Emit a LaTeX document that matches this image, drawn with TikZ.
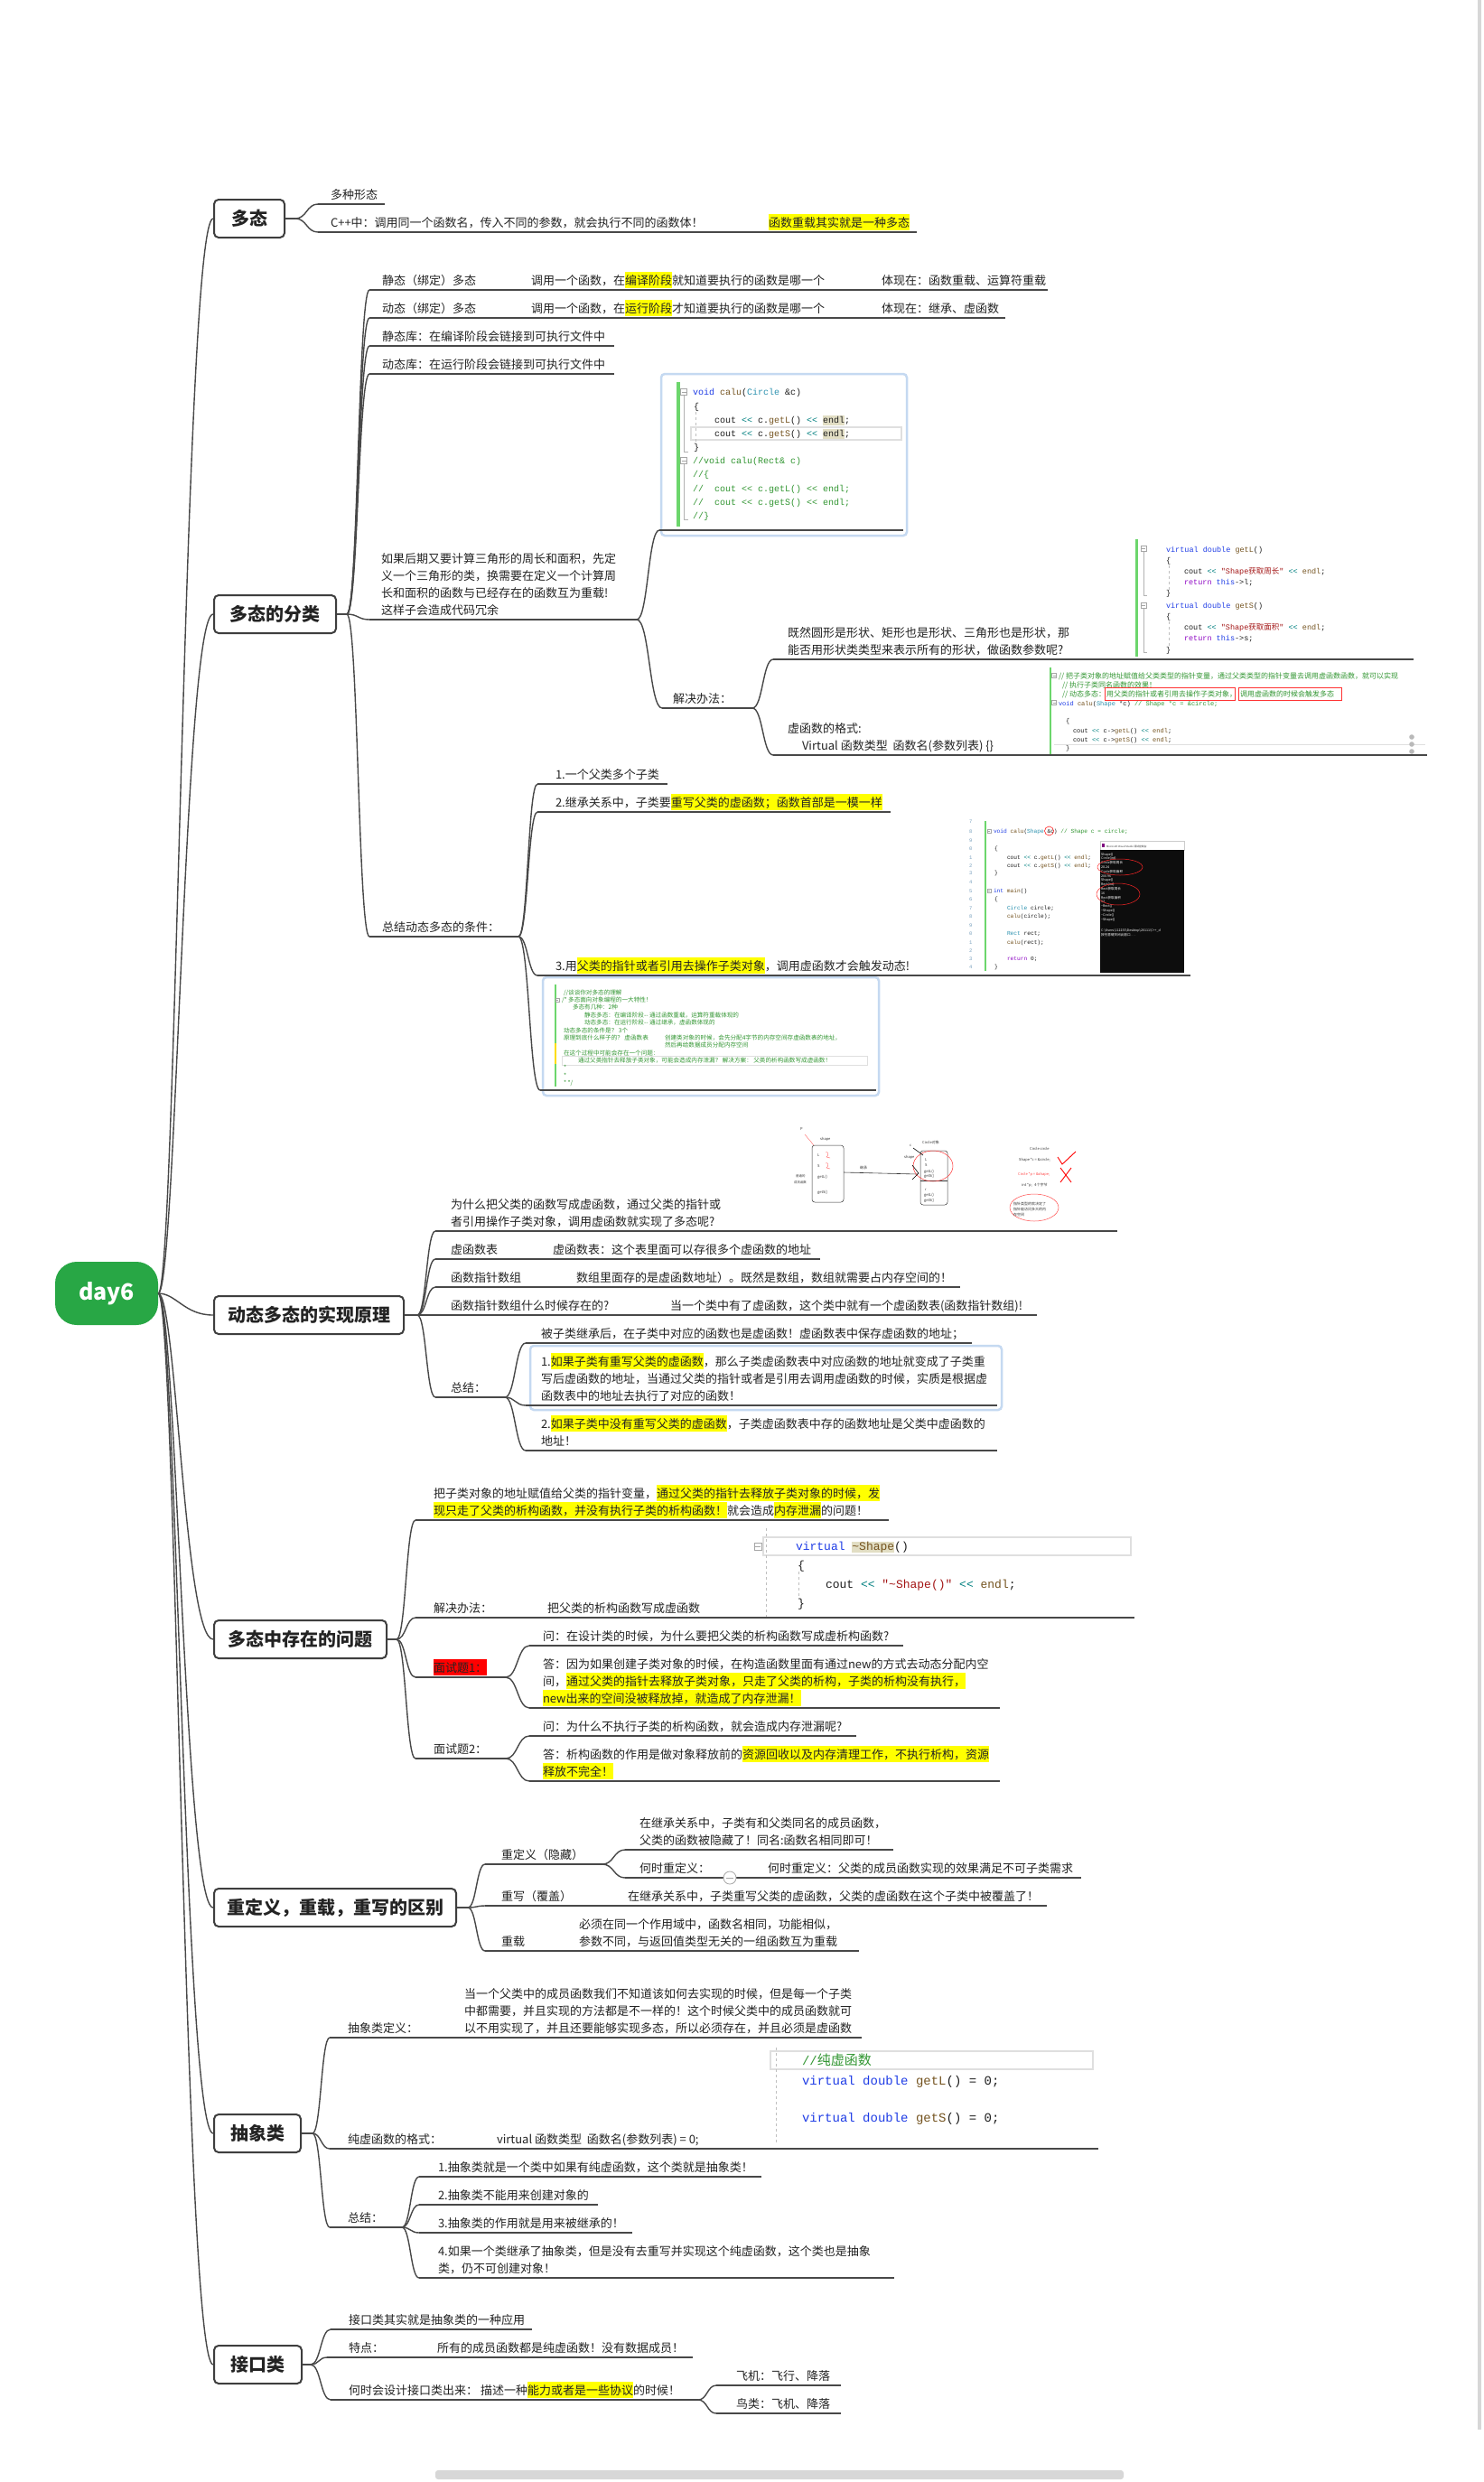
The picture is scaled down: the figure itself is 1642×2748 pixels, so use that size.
\documentclass[tikz,border=0pt]{standalone}
\usepackage{fontspec}
\setmainfont{Noto Sans CJK SC}
\newfontfamily\cjk{Noto Sans CJK SC}
\newfontfamily\mono{Liberation Mono}[Ligatures=TeXOff]
\usetikzlibrary{calc}
\definecolor{lc}{RGB}{72,72,72}
\definecolor{bc}{RGB}{62,62,62}
\definecolor{tc}{RGB}{35,35,35}
\definecolor{hly}{RGB}{255,255,0}
\definecolor{rootg}{RGB}{40,167,69}
\definecolor{fc}{RGB}{197,217,241}
\definecolor{gb}{RGB}{108,214,108}
\definecolor{kwc}{RGB}{30,60,230}
\definecolor{fnc}{RGB}{116,83,31}
\definecolor{tyc}{RGB}{43,145,175}
\definecolor{opc}{RGB}{0,128,128}
\definecolor{cmc}{RGB}{50,150,50}
\definecolor{stc}{RGB}{163,21,21}
\definecolor{puc}{RGB}{143,8,196}
\definecolor{ccc}{RGB}{30,30,30}
\definecolor{ebc}{RGB}{226,222,196}
\definecolor{sbc}{RGB}{215,215,215}
\definecolor{lnc}{RGB}{120,160,190}
\newcounter{tn}
\newcommand\TXi[5]{\node[#2] (t#1) at (#3,#4) {#5};}
\newcommand\TX[4]{\stepcounter{tn}\expandafter\TXi\expandafter{\number\value{tn}}{#1}{#2}{#3}{#4}}
\newcommand\HL[1]{{\setlength{\fboxsep}{0pt}\colorbox{hly}{\rule[-4pt]{0pt}{18pt}#1}}}
\newcommand\RB[1]{{\setlength{\fboxsep}{0pt}\colorbox{red}{\rule[-4pt]{0pt}{18pt}#1}}}
\newcommand\EB[1]{{\setlength{\fboxsep}{0pt}\colorbox{ebc}{\rule[-2.5pt]{0pt}{11pt}#1}}}
\newcommand\KW[1]{\textcolor{kwc}{#1}}
\newcommand\FN[1]{\textcolor{fnc}{#1}}
\newcommand\TY[1]{\textcolor{tyc}{#1}}
\newcommand\OP[1]{\textcolor{opc}{#1}}
\newcommand\CM[1]{\textcolor{cmc}{#1}}
\newcommand\ST[1]{\textcolor{stc}{#1}}
\newcommand\PU[1]{\textcolor{puc}{#1}}
\newcommand\UL[4]{\coordinate (#1s) at (#2,#4); \coordinate (#1e) at (#3,#4); \draw[mline] (#1s) -- (#1e);}
\newcommand\CN[2]{\draw[mline] (#1) .. controls ($(#1)!0.5!(#2|-#1)$) and ($(#2)!0.5!(#1|-#2)$) .. (#2);}
\newcommand\FM[3]{\draw[gray!70,line width=0.5pt,fill=white] (#1-#3,#2-#3) rectangle (#1+#3,#2+#3); \draw[gray!70,line width=0.5pt] (#1-#3+1,#2) -- (#1+#3-1,#2);}
\tikzset{
 mline/.style={draw=lc, line width=1.4pt},
 topic/.style={draw=bc, line width=2pt, rounded corners=5pt, fill=white, text=tc, inner sep=0pt, minimum height=42pt, font=\fontsize{20}{24}\selectfont\bfseries},
 root/.style={fill=rootg, text=white, rounded corners=24pt, minimum width=114pt, minimum height=70pt, inner sep=0pt, font=\fontsize{25}{28}\selectfont\bfseries},
 txt/.style={anchor=base west, inner sep=0pt, outer sep=0pt, text=tc, font=\fontsize{13}{19}\selectfont},
 frame/.style={draw=fc, line width=2.5pt, rounded corners=4pt, fill=white},
 code/.style={anchor=base west, inner sep=0pt, outer sep=0pt, text=ccc, font=\mono\fontsize{10}{12}\selectfont},
 c85/.style={code, font=\mono\fontsize{8.5}{10}\selectfont},
 c7/.style={code, font=\mono\fontsize{7}{8}\selectfont},
 c62/.style={code, font=\mono\fontsize{6.2}{7}\selectfont},
 c13/.style={code, font=\mono\fontsize{13}{15}\selectfont},
 c14/.style={code, font=\mono\fontsize{14}{16}\selectfont},
 cj8/.style={code, text=cmc, font=\cjk\fontsize{8}{9}\selectfont},
 cj66/.style={code, text=cmc, font=\cjk\fontsize{6.6}{8}\selectfont},
 lnum/.style={code, text=lnc, font=\mono\fontsize{5.5}{6}\selectfont},
 con/.style={anchor=base west, inner sep=0pt, text=white, font=\cjk\fontsize{3.6}{4}\selectfont},
 hd/.style={anchor=base west, inner sep=0pt, text=black!80, font=\cjk\fontsize{4}{5}\selectfont},
 clbox/.style={draw=gray!25, line width=1.2pt},
 guide/.style={draw=gray!50, line width=0.5pt, dashed},
}
\begin{document}
\begin{tikzpicture}[x=1pt,y=-1pt]
\useasboundingbox (0,0) rectangle (1642,2748);
\fill[white] (0,0) rectangle (1642,2748);
% scrollbars
\fill[sbc] (1636,0) rectangle (1640,2690);
\fill[sbc, rounded corners=3pt] (482,2735) rectangle (1244,2745);

% frames of pasted pictures
\draw[frame] (732,414) rectangle (1004,593);
\draw[frame] (601,1082) rectangle (973,1213);
\draw[frame] (587,1490) rectangle (1109,1561);

% root and topics
\node[root] (root) at (118,1432) {day6};
\node[topic, minimum width=78pt] (b1) at (276,242) {多态};
\node[topic, minimum width=135pt] (b2) at (304.5,680) {多态的分类};
\node[topic, minimum width=210pt] (b3) at (342,1456) {动态多态的实现原理};
\node[topic, minimum width=191pt] (b4) at (332.5,1815) {多态中存在的问题};
\node[topic, minimum width=268pt] (b5) at (371,2112) {重定义，重载，重写的区别};
\node[topic, minimum width=96pt] (b6) at (285,2362) {抽象类};
\node[topic, minimum width=97pt] (b7) at (285.5,2618) {接口类};
\foreach \b in {b1,b2,b3,b4,b5,b6,b7}{\draw[mline] (root.east) .. controls +(20,0) and +(-32,0) .. (\b.west);}

% stubs
\coordinate (s1) at (327,242);
\coordinate (s2) at (384,680);
\coordinate (s3) at (462,1456);
\coordinate (s4) at (439,1815);
\coordinate (s5) at (518,2112);
\coordinate (s6) at (346,2362);
\coordinate (s7) at (344,2618);
\draw[mline] (b1.east) -- (s1);
\draw[mline] (b2.east) -- (s2);
\draw[mline] (b3.east) -- (s3);
\draw[mline] (b4.east) -- (s4);
\draw[mline] (b5.east) -- (s5);
\draw[mline] (b6.east) -- (s6);
\draw[mline] (b7.east) -- (s7);

% ---------- section 1
\UL{a1}{352}{426}{226}
\UL{a2}{352}{1015}{257}
\CN{s1}{a1s} \CN{s1}{a2s}
\TX{txt}{366}{220}{多种形态}
\TX{txt}{366}{251}{C++中：调用同一个函数名，传入不同的参数，就会执行不同的函数体！}
\TX{txt}{851}{251}{\HL{函数重载其实就是一种多态}}

% ---------- section 2
\UL{c1}{409}{1160}{321}
\UL{c2}{409}{1113}{352}
\UL{c3}{409}{680}{383}
\UL{c4}{409}{680}{414}
\UL{c5}{409}{705}{686}
\UL{c6}{409}{574}{1037}
\UL{c51}{730}{1000}{587}
\UL{c52}{733}{833}{784}
\UL{c521}{856}{1565}{730}
\UL{c522}{856}{1580}{836}
\UL{c61}{595}{739}{868}
\UL{c62}{595}{986}{899}
\UL{c63}{595}{1318}{1080}
\UL{c64}{598}{970}{1207}
\CN{s2}{c1s} \CN{s2}{c2s} \CN{s2}{c3s} \CN{s2}{c4s} \CN{s2}{c5s} \CN{s2}{c6s}
\CN{c5e}{c51s} \CN{c5e}{c52s}
\CN{c52e}{c521s} \CN{c52e}{c522s}
\CN{c6e}{c61s} \CN{c6e}{c62s} \CN{c6e}{c63s} \CN{c6e}{c64s}
\TX{txt}{423}{315}{静态（绑定）多态}
\TX{txt}{588}{315}{调用一个函数，在\HL{编译阶段}就知道要执行的函数是哪一个}
\TX{txt}{976}{315}{体现在：函数重载、运算符重载}
\TX{txt}{423}{346}{动态（绑定）多态}
\TX{txt}{588}{346}{调用一个函数，在\HL{运行阶段}才知道要执行的函数是哪一个}
\TX{txt}{976}{346}{体现在：继承、虚函数}
\TX{txt}{423}{377}{静态库：在编译阶段会链接到可执行文件中}
\TX{txt}{423}{408}{动态库：在运行阶段会链接到可执行文件中}
\TX{txt}{422}{623}{如果后期又要计算三角形的周长和面积，先定}
\TX{txt}{422}{642}{义一个三角形的类，换需要在定义一个计算周}
\TX{txt}{422}{661}{长和面积的函数与已经存在的函数互为重载!}
\TX{txt}{422}{680}{这样子会造成代码冗余}
\TX{txt}{745}{778}{解决办法：}
\TX{txt}{872}{705}{既然圆形是形状、矩形也是形状、三角形也是形状，那}
\TX{txt}{872}{724}{能否用形状类类型来表示所有的形状，做函数参数呢?}
\TX{txt}{872}{811}{虚函数的格式:}
\TX{txt}{888}{830}{Virtual 函数类型\ \ 函数名(参数列表) \{\}}
\TX{txt}{423}{1031}{总结动态多态的条件：}
\TX{txt}{615}{862}{1.一个父类多个子类}
\TX{txt}{615}{893}{2.继承关系中，子类要\HL{重写父类的虚函数；函数首部是一模一样}}
\TX{txt}{615}{1074}{3.用\HL{父类的指针或者引用去操作子类对象}，调用虚函数才会触发动态!}

% code picture 1
\fill[gb] (749,423) rectangle (753,583);
\draw[clbox] (765,473) rectangle (998,487);
\draw[gray!60,line width=0.5pt] (757,438) -- (757,500) -- (762,500);
\draw[gray!60,line width=0.5pt] (757,514) -- (757,575) -- (762,575);
\draw[guide] (770,456) -- (770,490);
\FM{757}{434}{3.5} \FM{757}{510}{3.5}
\TX{code}{767}{437.5}{\KW{void} \FN{calu}(\TY{Circle} \&c)}
\TX{code}{768}{453.5}{\{}
\TX{code}{791}{468.5}{cout \OP{<<} c.\FN{getL}() \OP{<<} \EB{endl};}
\TX{code}{791}{483.5}{cout \OP{<<} c.\FN{getS}() \OP{<<} \EB{endl};}
\TX{code}{768}{498.5}{\}}
\TX{code}{767}{513.5}{\CM{//void calu(Rect\& c)}}
\TX{code}{767}{528.5}{\CM{//\{}}
\TX{code}{767}{544.5}{\CM{//\ \ cout << c.getL() << endl;}}
\TX{code}{767}{559.5}{\CM{//\ \ cout << c.getS() << endl;}}
\TX{code}{767}{574.5}{\CM{//\}}}

% code picture 2
\fill[gb] (1257,597) rectangle (1260,727);
\draw[gray!60,line width=0.4pt] (1266,611) -- (1266,659) -- (1270,659);
\draw[gray!60,line width=0.4pt] (1266,674) -- (1266,722) -- (1270,722);
\draw[guide] (1294,626) -- (1294,655);
\draw[guide] (1294,688) -- (1294,718);
\FM{1266}{607}{3} \FM{1266}{670}{3}
\TX{c85}{1291}{611}{\KW{virtual} \KW{double} \FN{getL}()}
\TX{c85}{1291}{623}{\{}
\TX{c85}{1311}{635}{cout \OP{<<} \ST{"Shape{\cjk 获取周长}"} \OP{<<} \FN{endl};}
\TX{c85}{1311}{647}{\PU{return} \KW{this}->l;}
\TX{c85}{1291}{659}{\}}
\TX{c85}{1291}{673}{\KW{virtual} \KW{double} \FN{getS}()}
\TX{c85}{1291}{685}{\{}
\TX{c85}{1311}{697}{cout \OP{<<} \ST{"Shape{\cjk 获取面积}"} \OP{<<} \FN{endl};}
\TX{c85}{1311}{709}{\PU{return} \KW{this}->s;}
\TX{c85}{1291}{722}{\}}

% code picture 3
\fill[gb] (1162,739) rectangle (1164,835);
\draw[gray!25,line width=0.8pt] (1167,824) -- (1578,824);
\FM{1167}{748}{2.5} \FM{1167}{778}{2.5}
\TX{cj8}{1172}{751}{// 把子类对象的地址赋值给父类类型的指针变量，通过父类类型的指针变量去调用虚函数函数，就可以实现}
\TX{cj8}{1176}{761}{// 执行子类同名函数的效果！}
\TX{cj8}{1176}{771}{// 动态多态：}
\draw[red!80, line width=0.8pt] (1223,761) rectangle (1367,775);
\draw[red!80, line width=0.8pt] (1371,761) rectangle (1485,775);
\TX{cj8}{1225}{771}{用父类的指针或者引用去操作子类对象，}
\TX{cj8}{1373}{771}{调用虚函数的时候会触发多态}
\TX{c7}{1172}{781}{\KW{void} \FN{calu}(\TY{Shape} *c) \CM{// Shape *c = \&circle;}}
\TX{c7}{1180}{800}{\{}
\TX{c7}{1188}{811}{cout \OP{<<} c->\FN{getL}() \OP{<<} \FN{endl};}
\TX{c7}{1188}{821}{cout \OP{<<} c->\FN{getS}() \OP{<<} \FN{endl};}
\TX{c7}{1180}{830}{\}}
\fill[gray!55] (1563,816) circle (2.8);
\fill[gray!55] (1563,824) circle (2.8);
\fill[gray!55] (1563,832) circle (2.8);

% code picture 4 (comments)
\fill[gb] (614,1090) rectangle (616,1203);
\fill[yellow!80!orange] (614,1155) rectangle (616,1178);
\draw[gray!25, line width=0.8pt] (622,1169) rectangle (960,1179);
\FM{617}{1107}{2.2}
\TX{cj66}{624}{1101}{//谈谈你对多态的理解}
\TX{cj66}{622}{1109}{/* 多态面向对象编程的一大特性！}
\TX{cj66}{634}{1117}{多态有几种：2种}
\TX{cj66}{647}{1126}{静态多态：在编译阶段-{}- 通过函数重载，运算符重载体现的}
\TX{cj66}{647}{1134}{动态多态：在运行阶段-{}- 通过继承，虚函数体现的}
\TX{cj66}{624}{1143}{动态多态的条件是？ 3个}
\TX{cj66}{624}{1151}{原理到底什么样子的？ 虚函数表}
\TX{cj66}{736}{1151}{创建类对象的时候，会先分配4字节的内存空间存虚函数表的地址，}
\TX{cj66}{736}{1159}{然后再给数据成员分配内存空间}
\TX{cj66}{624}{1168}{在这个过程中可能会存在一个问题：}
\TX{cj66}{640}{1176}{通过父类指针去释放子类对象，可能会造成内存泄漏？ 解决方案： 父类的析构函数写成虚函数！}
\TX{cj66}{624}{1184}{*}
\TX{cj66}{624}{1193}{*}
\TX{cj66}{624}{1201}{* */}

% code picture 5 (calu Shape & + console)
\fill[gb] (1090,909) rectangle (1092,1075);
\foreach \n/\yy in {7/911,8/922,9/932,0/941,1/951,2/960,3/968,4/978,5/988,6/997,7/1007,8/1016,9/1026,0/1035,1/1045,2/1054,3/1063,4/1072}{\node[lnum] (ln\yy) at (1073,\yy) {\n};}
\FM{1095}{920}{2.2} \FM{1095}{986}{2.2}
\TX{c62}{1100}{922}{\KW{void} \FN{calu}(\TY{Shape} \&c) \CM{// Shape c = circle;}}
\draw[red, line width=0.5pt] (1161.5,920) circle (5);
\TX{c62}{1101}{941}{\{}
\TX{c62}{1115}{951}{cout \OP{<<} c.\FN{getL}() \OP{<<} \FN{endl};}
\TX{c62}{1115}{960}{cout \OP{<<} c.\FN{getS}() \OP{<<} \FN{endl};}
\TX{c62}{1101}{968}{\}}
\TX{c62}{1100}{988}{\KW{int} \FN{main}()}
\TX{c62}{1101}{997}{\{}
\TX{c62}{1115}{1007}{\TY{Circle} circle;}
\TX{c62}{1115}{1016}{\FN{calu}(circle);}
\TX{c62}{1115}{1035}{\TY{Rect} rect;}
\TX{c62}{1115}{1045}{\FN{calu}(rect);}
\TX{c62}{1115}{1063}{\PU{return} 0;}
\TX{c62}{1101}{1072}{\}}
\fill[white] (1218,931) rectangle (1311,941);
\draw[gray!40, line width=0.3pt] (1218,931) rectangle (1311,941);
\fill[black!95] (1218,941) rectangle (1311,1077);
\fill[violet] (1220,934) rectangle (1223,938);
\TX{hd,font=\cjk\fontsize{2.8}{3}\selectfont}{1225}{938}{Microsoft Visual Studio 调试控制台}
\TX{con}{1219}{947}{Shape()}
\TX{con}{1219}{951.8}{Circle(int)}
\TX{con}{1219}{956.6}{Circle获取周长}
\TX{con}{1219}{961.4}{28.24}
\TX{con}{1219}{966.2}{Circle获取面积}
\TX{con}{1219}{971}{200.96}
\TX{con}{1219}{975.8}{Shape()}
\TX{con}{1219}{980.6}{Rect(int)}
\TX{con}{1219}{985.4}{Rect获取周长}
\TX{con}{1219}{990.2}{16}
\TX{con}{1219}{995}{Rect获取面积}
\TX{con}{1219}{999.8}{12}
\TX{con}{1219}{1004.6}{\textasciitilde Rect()}
\TX{con}{1219}{1009.4}{\textasciitilde Shape()}
\TX{con}{1219}{1014.2}{\textasciitilde Circle()}
\TX{con}{1219}{1019}{\textasciitilde Shape()}
\TX{con}{1219}{1031}{C:\textbackslash Users\textbackslash 112233\textbackslash Desktop\textbackslash 20111\textbackslash C++\_d}
\TX{con}{1219}{1036}{按任意键关闭此窗口. . .}
\draw[red!85, line width=0.5pt] (1240,960) ellipse [x radius=25, y radius=9];
\draw[red!85, line width=0.5pt] (1238,990) ellipse [x radius=24, y radius=12];

% ---------- section 3
\UL{d1}{482}{1237}{1363}
\UL{d2}{482}{908}{1394}
\UL{d3}{482}{1063}{1425}
\UL{d4}{482}{1148}{1456}
\UL{d5}{482}{559}{1547}
\UL{d51}{582}{1076}{1487}
\UL{d52}{582}{1104}{1556}
\UL{d53}{582}{1104}{1606}
\CN{s3}{d1s} \CN{s3}{d2s} \CN{s3}{d3s} \CN{s3}{d4s} \CN{s3}{d5s}
\CN{d5e}{d51s} \CN{d5e}{d52s} \CN{d5e}{d53s}
\TX{txt}{499}{1338}{为什么把父类的函数写成虚函数，通过父类的指针或}
\TX{txt}{499}{1357}{者引用操作子类对象，调用虚函数就实现了多态呢?}
\TX{txt}{499}{1388}{虚函数表}
\TX{txt}{612}{1388}{虚函数表：这个表里面可以存很多个虚函数的地址}
\TX{txt}{499}{1419}{函数指针数组}
\TX{txt}{638}{1419}{数组里面存的是虚函数地址）。既然是数组，数组就需要占内存空间的！}
\TX{txt}{499}{1450}{函数指针数组什么时候存在的?}
\TX{txt}{742}{1450}{当一个类中有了虚函数，这个类中就有一个虚函数表(函数指针数组)!}
\TX{txt}{499}{1541}{总结：}
\TX{txt}{599}{1481}{被子类继承后，在子类中对应的函数也是虚函数！虚函数表中保存虚函数的地址；}
\TX{txt}{599}{1512}{1.\HL{如果子类有重写父类的虚函数}，那么子类虚函数表中对应函数的地址就变成了子类重}
\TX{txt}{599}{1531}{写后虚函数的地址，当通过父类的指针或者是引用去调用虚函数的时候，实质是根据虚}
\TX{txt}{599}{1550}{函数表中的地址去执行了对应的函数！}
\TX{txt}{599}{1581}{2.\HL{如果子类中没有重写父类的虚函数}，子类虚函数表中存的函数地址是父类中虚函数的}
\TX{txt}{599}{1600}{地址！}

% hand drawing picture
\draw[red!60, line width=0.4pt] (891,1256) .. controls (896,1262) .. (901,1268);
\TX{hd}{886}{1251}{P}
\TX{hd}{908}{1262}{shape}
\draw[black!80, line width=0.5pt, rounded corners=3pt] (899,1268) rectangle (934,1331);
\TX{hd}{905}{1280}{L}
\TX{hd}{905}{1292}{S}
\draw[red!60, line width=0.4pt] (914,1276) .. controls (917,1274) and (918,1279) .. (915,1281) -- (919,1282);
\draw[red!60, line width=0.4pt] (914,1288) .. controls (917,1286) and (918,1291) .. (915,1293) -- (919,1294);
\TX{hd}{905}{1304}{getL()}
\TX{hd}{905}{1321}{getS()}
\TX{hd,font=\cjk\fontsize{3.4}{4}\selectfont}{881}{1303}{普通的}
\TX{hd,font=\cjk\fontsize{3.4}{4}\selectfont}{879}{1310}{成员函数}
\draw[black!80, line width=0.6pt] (934,1298) -- (1016,1300);
\TX{hd}{952}{1294}{继承}
\draw[black!80, line width=0.5pt, rounded corners=3pt] (1019,1274) rectangle (1049,1334);
\draw[black!80, line width=0.5pt] (1019,1307) -- (1049,1307);
\TX{hd}{1021}{1266}{Circle对象}
\TX{hd}{1024}{1285}{L}
\TX{hd}{1024}{1291}{S}
\TX{hd}{1023}{1298}{getL()}
\TX{hd}{1023}{1303}{getS()}
\TX{hd}{1024}{1318}{r}
\TX{hd}{1023}{1324}{getL()}
\TX{hd}{1023}{1330}{getS()}
\draw[red!80, line width=0.5pt] (1033,1291) ellipse [x radius=22, y radius=17];
\TX{hd}{1007}{1269}{c}
\draw[black, line width=0.6pt] (1011,1271) -- (1022,1279);
\TX{hd}{1001}{1282}{shape}
\draw[black, line width=0.6pt] (1010,1290) -- (1017,1299) -- (1010,1306);
\TX{hd}{1140}{1273}{Circle circle}
\TX{hd}{1128}{1285}{Shape *c = \&circle;}
\draw[red, line width=0.9pt] (1171,1281) -- (1176,1289) -- (1191,1275);
\TX{hd,text=red!75}{1127}{1301}{Circle *p = \&shape;}
\draw[red, line width=0.9pt] (1174,1293) -- (1186,1309) (1186,1293) -- (1174,1309);
\TX{hd}{1131}{1313}{int *p;\ \ \ 4个字节}
\draw[red!70, line width=0.5pt] (1145,1337) ellipse [x radius=27, y radius=15];
\TX{hd}{1122}{1334}{指针类型的就决定了}
\TX{hd}{1122}{1340}{指针能访问多大的内}
\TX{hd}{1122}{1346}{存空间}

% ---------- section 4
\UL{e1}{460}{984}{1683}
\UL{e2}{460}{1256}{1791}
\UL{e3}{460}{560}{1857}
\UL{e4}{460}{560}{1947}
\UL{e31}{586}{1000}{1822}
\UL{e32}{586}{1107}{1891}
\UL{e41}{586}{948}{1922}
\UL{e42}{586}{1107}{1972}
\CN{s4}{e1s} \CN{s4}{e2s} \CN{s4}{e3s} \CN{s4}{e4s}
\CN{e3e}{e31s} \CN{e3e}{e32s}
\CN{e4e}{e41s} \CN{e4e}{e42s}
\TX{txt}{480}{1658}{把子类对象的地址赋值给父类的指针变量，\HL{通过父类的指针去释放子类对象的时候，发}}
\TX{txt}{480}{1677}{\HL{现只走了父类的析构函数，并没有执行子类的析构函数！}就会造成\HL{内存泄漏}的问题！}
\TX{txt}{480}{1785}{解决办法：}
\TX{txt}{606}{1785}{把父类的析构函数写成虚函数}
\TX{txt}{480}{1851}{\RB{面试题1：}}
\TX{txt}{601}{1816}{问：在设计类的时候，为什么要把父类的析构函数写成虚析构函数?}
\TX{txt}{601}{1847}{答：因为如果创建子类对象的时候，在构造函数里面有通过new的方式去动态分配内空}
\TX{txt}{601}{1866}{间，\HL{通过父类的指针去释放子类对象，只走了父类的析构，子类的析构没有执行，}}
\TX{txt}{601}{1885}{\HL{new出来的空间没被释放掉，就造成了内存泄漏！}}
\TX{txt}{480}{1941}{面试题2：}
\TX{txt}{601}{1916}{问：为什么不执行子类的析构函数，就会造成内存泄漏呢?}
\TX{txt}{601}{1947}{答：析构函数的作用是做对象释放前的\HL{资源回收以及内存清理工作，不执行析构，资源}}
\TX{txt}{601}{1966}{\HL{释放不完全！}}
% code picture 6
\draw[clbox] (845,1702) rectangle (1252,1722);
\draw[guide] (848,1692) -- (848,1790);
\draw[guide] (884,1740) -- (884,1770);
\FM{839}{1712}{4}
\TX{c13}{881}{1716}{\KW{virtual} \EB{\FN{\textasciitilde Shape}}()}
\TX{c13}{883}{1737}{\{}
\TX{c13}{914}{1758}{cout \OP{<<} \ST{"\textasciitilde Shape()"} \OP{<<} \FN{endl};}
\TX{c13}{883}{1779}{\}}

% ---------- section 5
\UL{f1}{537}{667}{2064}
\UL{f2}{537}{1159}{2110}
\UL{f3}{537}{951}{2160}
\UL{f11}{692}{989}{2048}
\UL{f12}{692}{1197}{2079}
\CN{s5}{f1s} \CN{s5}{f2s} \CN{s5}{f3s}
\CN{f1e}{f11s} \CN{f1e}{f12s}
\TX{txt}{555}{2058}{重定义（隐藏）}
\TX{txt}{708}{2023}{在继承关系中，子类有和父类同名的成员函数，}
\TX{txt}{708}{2042}{父类的函数被隐藏了！同名:函数名相同即可！}
\TX{txt}{708}{2073}{何时重定义：}
\TX{txt}{850}{2073}{何时重定义：父类的成员函数实现的效果满足不可子类需求}
\draw[gray!70, line width=0.8pt, fill=white] (808,2079) circle (7);
\draw[gray!70, line width=0.8pt] (804,2079) -- (812,2079);
\TX{txt}{555}{2104}{重写（覆盖）}
\TX{txt}{695}{2104}{在继承关系中，子类重写父类的虚函数，父类的虚函数在这个子类中被覆盖了！}
\TX{txt}{555}{2154}{重载}
\TX{txt}{641}{2135}{必须在同一个作用域中，函数名相同，功能相似，}
\TX{txt}{641}{2154}{参数不同，与返回值类型无关的一组函数互为重载}

% ---------- section 6
\UL{g1}{365}{954}{2256}
\UL{g2}{365}{1216}{2379}
\UL{g3}{365}{445}{2466}
\UL{g31}{464}{843}{2410}
\UL{g32}{464}{662}{2441}
\UL{g33}{464}{700}{2472}
\UL{g34}{464}{990}{2522}
\CN{s6}{g1s} \CN{s6}{g2s} \CN{s6}{g3s}
\CN{g3e}{g31s} \CN{g3e}{g32s} \CN{g3e}{g33s} \CN{g3e}{g34s}
\TX{txt}{385}{2250}{抽象类定义：}
\TX{txt}{514}{2212}{当一个父类中的成员函数我们不知道该如何去实现的时候，但是每一个子类}
\TX{txt}{514}{2231}{中都需要，并且实现的方法都是不一样的！这个时候父类中的成员函数就可}
\TX{txt}{514}{2250}{以不用实现了，并且还要能够实现多态，所以必须存在，并且必须是虚函数}
\TX{txt}{385}{2373}{纯虚函数的格式：}
\TX{txt}{550}{2373}{virtual 函数类型\ \ 函数名(参数列表) = 0;}
\TX{txt}{385}{2460}{总结：}
\TX{txt}{485}{2404}{1.抽象类就是一个类中如果有纯虚函数，这个类就是抽象类！}
\TX{txt}{485}{2435}{2.抽象类不能用来创建对象的}
\TX{txt}{485}{2466}{3.抽象类的作用就是用来被继承的！}
\TX{txt}{485}{2497}{4.如果一个类继承了抽象类，但是没有去重写并实现这个纯虚函数，这个类也是抽象}
\TX{txt}{485}{2516}{类，仍不可创建对象！}
% code picture 7
\draw[clbox] (853,2271) rectangle (1210,2291);
\draw[guide] (859,2267) -- (859,2374);
\TX{c14,text=cmc}{888}{2286}{//{\cjk\fontsize{15}{16}\selectfont 纯虚函数}}
\TX{c14}{888}{2308}{\KW{virtual} \KW{double} \FN{getL}() = 0;}
\TX{c14}{888}{2349}{\KW{virtual} \KW{double} \FN{getS}() = 0;}

% ---------- section 7
\UL{h1}{366}{589}{2579}
\UL{h2}{362}{767}{2610}
\UL{h3}{366}{773}{2657}
\UL{h31}{793}{931}{2641}
\UL{h32}{793}{931}{2672}
\CN{s7}{h1s} \CN{s7}{h2s} \CN{s7}{h3s}
\CN{h3e}{h31s} \CN{h3e}{h32s}
\TX{txt}{386}{2573}{接口类其实就是抽象类的一种应用}
\TX{txt}{386}{2604}{特点：}
\TX{txt}{484}{2604}{所有的成员函数都是纯虚函数！没有数据成员！}
\TX{txt}{386}{2651}{何时会设计接口类出来：}
\TX{txt}{532}{2651}{描述一种\HL{能力或者是一些协议}的时候！}
\TX{txt}{815}{2635}{飞机：飞行、降落}
\TX{txt}{815}{2666}{鸟类：飞机、降落}
\end{tikzpicture}
\end{document}
